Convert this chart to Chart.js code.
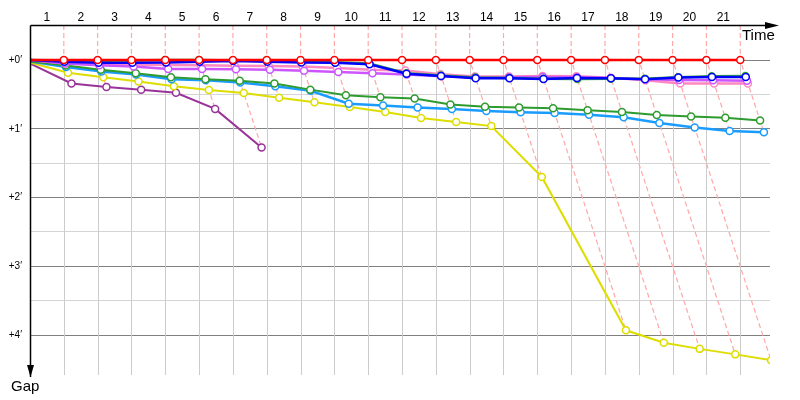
<!DOCTYPE html>
<html>
<head>
<meta charset="utf-8">
<script src="https://cdn.jsdelivr.net/npm/chart.js@4.4.1/dist/chart.umd.min.js"></script>
<style>
  body { margin: 0; background: #fff; }
  #wrap { width: 800px; height: 400px; position: relative; }
</style>
</head>
<body>
<div id="wrap"><canvas id="gap-chart"></canvas></div>
<script>
  "use strict";

  // lap labels on the time axis, lap length in minutes
  var lapLabels = ["1", "2", "3", "4", "5", "6", "7", "8", "9", "10", "11",
    "12", "13", "14", "15", "16", "17", "18", "19", "20", "21"];
  var LAP_MIN = 1.5;
  var gapTicks = [0, 0.5, 1, 1.5, 2, 2.5, 3, 3.5, 4];

  // gap to leader (minutes) after each lap, index 0 = start
  var red = [0, 0, 0, 0, 0, 0, 0, 0, 0, 0, 0, 0, 0, 0, 0, 0, 0, 0, 0, 0, 0, 0];
  var blue = [0, 0.025, 0.04, 0.04, 0.035, 0.025, 0.015, 0.025, 0.035, 0.04, 0.06,
    0.2, 0.23, 0.265, 0.265, 0.275, 0.26, 0.265, 0.28, 0.255, 0.245, 0.245];
  var greenTop = [0, 0.005, 0.01, 0.005, 0, 0, 0.005, 0.01, 0.02, 0.03, 0.05,
    0.19, 0.225, 0.255, 0.26, 0.27, 0.275, 0.27, 0.27, 0.25, 0.235, 0.23];
  var pink = [0, 0.05, 0.06, 0.065, 0.07, 0.077, 0.083, 0.088, 0.095, 0.115, 0.14,
    0.15, 0.205, 0.24, 0.24, 0.233, 0.237, 0.257, 0.295, 0.34, 0.34, 0.34];
  var violet = [0, 0.05, 0.075, 0.095, 0.13, 0.13, 0.135, 0.14, 0.155, 0.175, 0.19,
    0.21, 0.235, 0.25, 0.25, 0.245, 0.25, 0.26, 0.28, 0.29, 0.295, 0.3];
  var lightBlue = [0.02, 0.1, 0.165, 0.21, 0.28, 0.295, 0.325, 0.38, 0.446, 0.635, 0.66,
    0.69, 0.71, 0.74, 0.76, 0.77, 0.795, 0.83, 0.915, 0.98, 1.03, 1.05];
  var greenLow = [0.02, 0.08, 0.14, 0.19, 0.25, 0.28, 0.3, 0.34, 0.43, 0.51, 0.54,
    0.56, 0.645, 0.68, 0.69, 0.7, 0.73, 0.755, 0.8, 0.82, 0.84, 0.88];
  var yellow = [0.04, 0.185, 0.25, 0.31, 0.38, 0.436, 0.48, 0.548, 0.615, 0.683, 0.756,
    0.843, 0.9, 0.96, 1.7, 3.93, 4.11, 4.2, 4.28, 4.365];
  var purple = [0.06, 0.34, 0.39, 0.43, 0.475, 0.71, 1.27];

  var Y_MIN = -0.51;
  var Y_MAX = 4.58;
  var X_MAX = 21.88;

  // x = time in lap units: leader's lap + own gap
  function toPoints(gaps) {
    return gaps.map(function (g, lap) {
      return { x: lap + g / LAP_MIN, y: g };
    });
  }

  function carSet(gaps, color, width) {
    return {
      data: toPoints(gaps),
      borderColor: color,
      borderWidth: width,
      pointBackgroundColor: "#fff",
      pointBorderColor: color,
      pointBorderWidth: 1.5,
      pointRadius: gaps.map(function (g, i) { return i === 0 ? 0 : 3.5; }),
      tension: 0
    };
  }

  var cars = [red, blue, greenTop, violet, pink, greenLow, lightBlue, yellow, purple];

  var datasets = [
    carSet(red, "#ff0000", 2.5),
    carSet(blue, "#0000ff", 2.5),
    carSet(greenTop, "#33aa33", 2.5),
    carSet(violet, "#cc55ff", 2.5),
    carSet(pink, "#ff88c0", 2.5),
    carSet(greenLow, "#2e9b2e", 2),
    carSet(lightBlue, "#1a9cff", 2.5),
    carSet(yellow, "#dddd00", 2),
    carSet(purple, "#993399", 2)
  ];

  // dashed lap lines: vertical above the leader, then through every car on that lap
  lapLabels.forEach(function (l, i) {
    var lap = i + 1;
    var gMax = 0;
    cars.forEach(function (c) {
      if (c.length > lap && c[lap] > gMax) gMax = c[lap];
    });
    datasets.push({
      data: [{ x: lap, y: Y_MIN }, { x: lap, y: 0 }, { x: lap + gMax / LAP_MIN, y: gMax }],
      borderColor: "#ffa8a8",
      borderWidth: 1.2,
      borderDash: [5, 3],
      pointRadius: 0
    });
  });

  // lap grid below the zero line, arrows and axis names
  var frame = {
    id: "frame",
    beforeDatasetsDraw: function (chart) {
      var ctx = chart.ctx, xs = chart.scales.x, ys = chart.scales.y;
      var area = chart.chartArea;
      ctx.save();
      ctx.strokeStyle = "#cccccc";
      ctx.lineWidth = 1;
      lapLabels.forEach(function (l, i) {
        var px = Math.round(xs.getPixelForValue(i + 1)) + 0.5;
        ctx.beginPath();
        ctx.moveTo(px, ys.getPixelForValue(0));
        ctx.lineTo(px, area.bottom);
        ctx.stroke();
      });
      ctx.restore();
    },
    afterDraw: function (chart) {
      var ctx = chart.ctx, area = chart.chartArea;
      var x0 = area.left + 0.5, y0 = area.top + 0.5;
      ctx.save();
      ctx.strokeStyle = "#000";
      ctx.fillStyle = "#000";
      ctx.lineWidth = 1.5;
      ctx.beginPath();
      ctx.moveTo(x0, y0);
      ctx.lineTo(area.right - 2, y0);
      ctx.moveTo(x0, y0);
      ctx.lineTo(x0, area.bottom + 2);
      ctx.stroke();
      ctx.beginPath();
      ctx.moveTo(area.right + 9, y0);
      ctx.lineTo(area.right - 5, y0 - 3.5);
      ctx.lineTo(area.right - 5, y0 + 3.5);
      ctx.closePath();
      ctx.fill();
      ctx.beginPath();
      ctx.moveTo(x0, area.bottom + 2);
      ctx.lineTo(x0 - 3.5, area.bottom - 10);
      ctx.lineTo(x0 + 3.5, area.bottom - 10);
      ctx.closePath();
      ctx.fill();
      ctx.font = "15px 'Liberation Sans', Arial, sans-serif";
      ctx.textAlign = "left";
      ctx.textBaseline = "alphabetic";
      ctx.fillText("Time", 742, 40);
      ctx.fillText("Gap", 11, 391);
      ctx.restore();
    }
  };

  new Chart(document.getElementById("gap-chart"), {
    type: "line",
    data: { datasets: datasets },
    options: {
      responsive: true,
      maintainAspectRatio: false,
      animation: false,
      layout: { padding: { left: 0, top: 0, right: 30, bottom: 25 } },
      plugins: { legend: { display: false }, tooltip: { enabled: false } },
      scales: {
        x: {
          type: "linear",
          position: "top",
          min: 0,
          max: X_MAX,
          grid: { display: false },
          border: { display: false },
          afterBuildTicks: function (scale) {
            scale.ticks = lapLabels.map(function (l, i) { return { value: i + 0.5 }; });
          },
          afterFit: function (scale) { scale.height = 25; },
          ticks: {
            autoSkip: false,
            maxRotation: 0,
            padding: -8,
            color: "#000",
            font: { family: "'Liberation Sans', Arial, sans-serif", size: 12 },
            callback: function (v, i) { return lapLabels[i]; }
          }
        },
        y: {
          type: "linear",
          reverse: true,
          min: Y_MIN,
          max: Y_MAX,
          afterBuildTicks: function (scale) {
            scale.ticks = gapTicks.map(function (v) { return { value: v }; });
          },
          afterFit: function (scale) { scale.width = 30; },
          grid: {
            drawTicks: false,
            color: function (c) {
              return c.tick && c.tick.value % 1 === 0 ? "#808080" : "#d4d4d4";
            }
          },
          border: { display: false },
          ticks: {
            padding: 8,
            color: "#000",
            font: { family: "'Liberation Sans', Arial, sans-serif", size: 10 },
            callback: function (v) { return v % 1 === 0 ? "+" + v + "\u2032" : ""; }
          }
        }
      }
    },
    plugins: [frame]
  });
</script>
</body>
</html>
